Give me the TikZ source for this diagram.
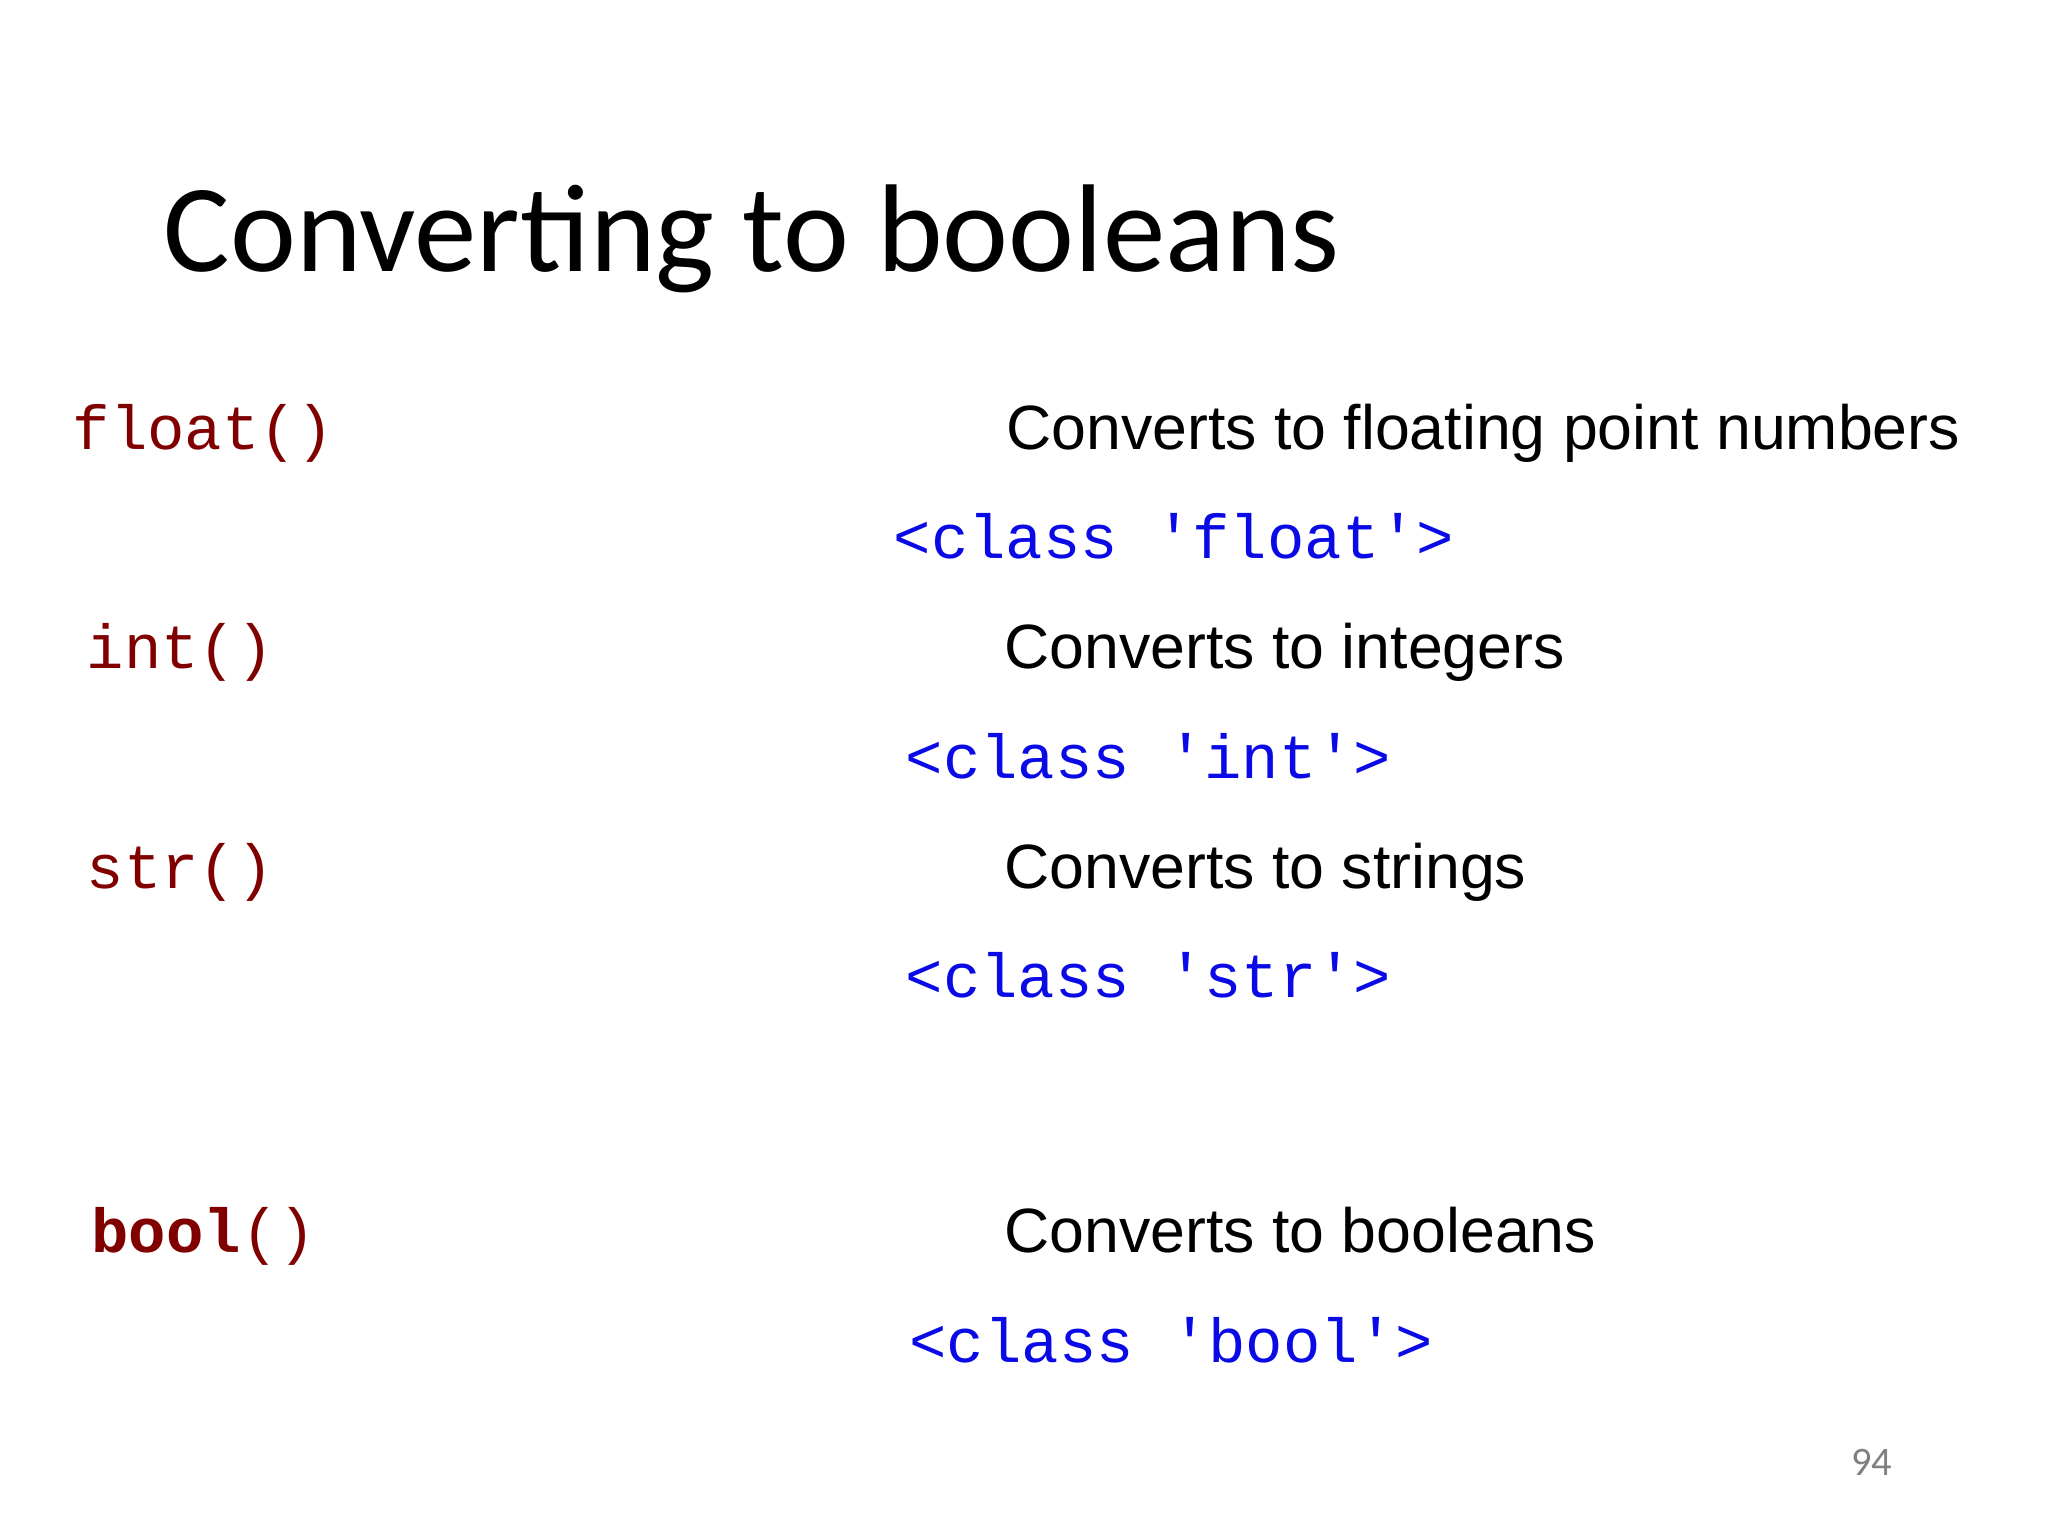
\documentclass[tikz,border=0pt]{standalone}
\usepackage{fontspec}
\setmainfont{Liberation Sans}
\newfontfamily\titlefont{Carlito}
\newfontfamily\codefont{Liberation Mono}
\definecolor{fnred}{HTML}{800000}
\definecolor{clblue}{HTML}{0A0AE6}
\begin{document}
\begin{tikzpicture}[x=0.00988cm,y=-0.00988cm,
  lbl/.style={anchor=base west,inner sep=0pt},
  fn/.style={lbl,text=fnred,font=\codefont\fontsize{17.7}{20}\selectfont},
  cls/.style={lbl,text=clblue,font=\codefont\fontsize{17.7}{20}\selectfont},
  desc/.style={lbl,font=\fontsize{17.8}{22}\selectfont}]
\useasboundingbox (0,0) rectangle (2073,1555);
\node[lbl,font=\titlefont\fontsize{35.5}{42}\selectfont] (title) at (165,275) {Converting to booleans};
\node[fn] (f1) at (73,455) {float()};
\node[desc] (d1) at (1018,455) {Converts to floating point numbers};
\node[cls] (c1) at (904,565) {<class 'float'>};
\node[fn] (f2) at (87,677) {int()};
\node[desc] (d2) at (1016,677) {Converts to integers};
\node[cls] (c2) at (916,788) {<class 'int'>};
\node[fn] (f3) at (87,899) {str()};
\node[desc] (d3) at (1016,899) {Converts to strings};
\node[cls] (c3) at (916,1010) {<class 'str'>};
\node[fn] (f4) at (92,1268) {\textbf{bool}()};
\node[desc] (d4) at (1016,1268) {Converts to booleans};
\node[cls] (c4) at (920,1379) {<class 'bool'>};
\node[lbl,text=gray,font=\titlefont\fontsize{11.5}{14}\selectfont] (pg) at (1873,1494) {94};
\end{tikzpicture}
\end{document}
